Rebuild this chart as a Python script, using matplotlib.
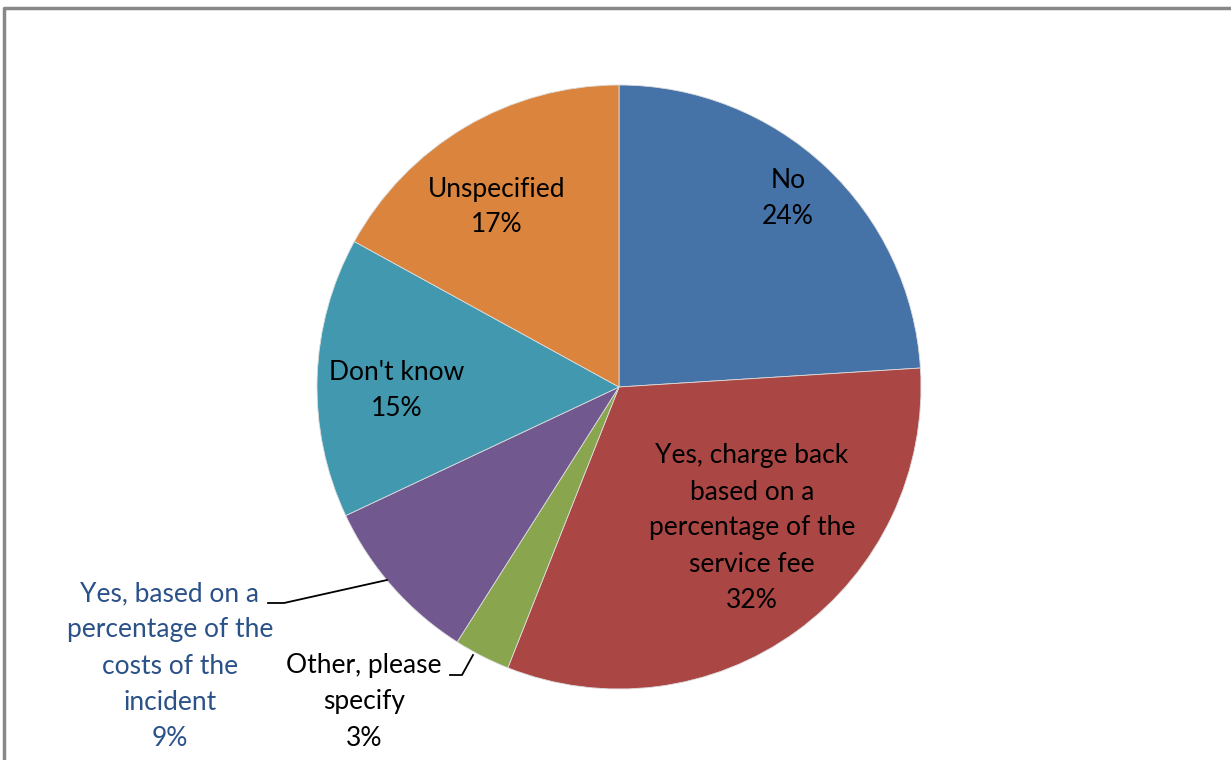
import matplotlib.pyplot as plt
import numpy as np

plt.rcParams['font.family'] = ['Lato', 'DejaVu Sans']

labels = ['No', 'Yes, charge back\nbased on a\npercentage of the\nservice fee',
          'Other, please\nspecify',
          'Yes, based on a\npercentage of the\ncosts of the\nincident',
          "Don't know", 'Unspecified']
values = [24, 32, 3, 9, 15, 17]
colors = ['#4572A7', '#AA4643', '#89A54E', '#71588F', '#4198AF', '#DB843D']

W, H = 1231, 760
fig = plt.figure(figsize=(W / 100, H / 100), dpi=100)
ax = fig.add_axes([0, 0, 1, 1])

cx, cy, r = 619, H - 387, 302
wedges, _ = ax.pie(values, colors=colors, startangle=90, counterclock=False,
                   center=(cx, cy), radius=r, frame=True,
                   wedgeprops=dict(edgecolor='#dddddd', linewidth=0.6))
ax.set_xlim(0, W)
ax.set_ylim(0, H)
ax.set_aspect('equal')
ax.axis('off')

# border of the chart area (cropped on the right/bottom)
ax.plot([4, 4, W], [0, H - 8, H - 8], color='#888888', lw=2.5, clip_on=False)

fs = 19
ls = 1.55
# inside labels: (index, x, y in px from top)
inside = [(0, 788, 199), (1, 752, 528), (4, 397, 390), (5, 497, 207)]
for i, x, y in inside:
    ax.text(x, H - y, f'{labels[i]}\n{values[i]}%', ha='center', va='center',
            fontsize=fs, color='black', linespacing=ls)

# outside labels with leader lines
def leader(i, tx, ty, pts, color):
    ax.text(tx, H - ty, f'{labels[i]}\n{values[i]}%', ha='center', va='center',
            fontsize=fs, color=color, linespacing=ls)
    xs = [p[0] for p in pts]
    ys = [H - p[1] for p in pts]
    ax.plot(xs, ys, color='black', lw=1.3)

leader(3, 170, 666, [(268, 603), (284, 603), (387, 580)], '#2B5189')
leader(2, 364, 702, [(450, 675), (462, 675), (473, 655)], 'black')

fig.savefig('out.png', dpi=100)
